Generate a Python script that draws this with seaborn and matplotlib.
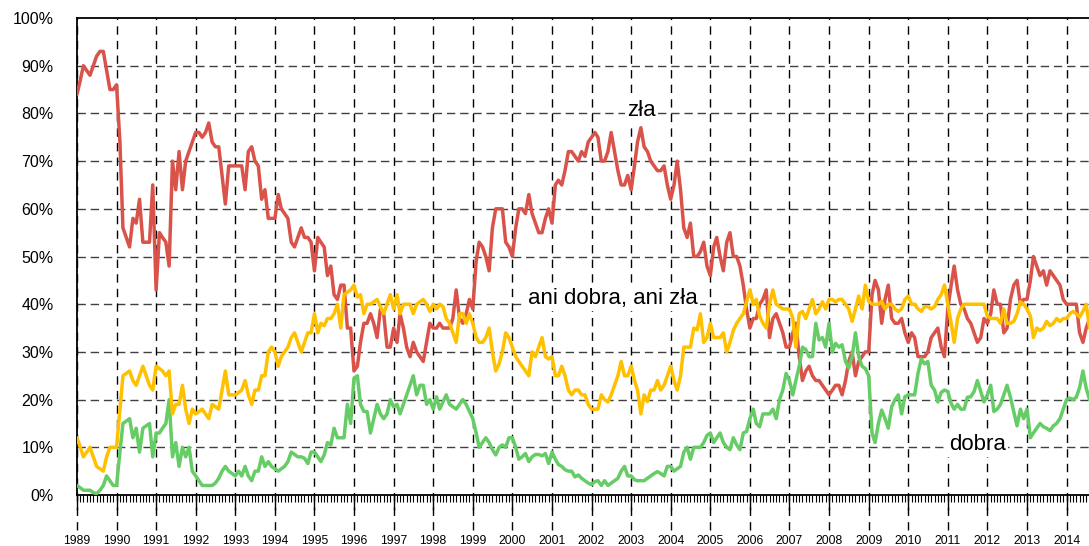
import numpy as np
import pandas as pd
import seaborn as sns
import matplotlib.pyplot as plt
import matplotlib.dates as mdates
from matplotlib.ticker import FixedLocator, FuncFormatter

# dane miesięczne, od stycznia 1989 do sierpnia 2014 (w %)
zla = [
    84, 87, 90, 89, 88, 90, 92, 93, 93, 89, 85, 85,
    86, 74, 56, 54, 52, 58, 57, 62, 53, 53, 53, 65,
    43, 55, 54, 53, 48, 70, 64, 72, 64, 70, 72, 74,
    76, 76, 75, 76, 78, 74, 73, 73, 67, 61, 69, 69,
    69, 69, 69, 64, 72, 73, 70, 69, 62, 64, 58, 58,
    58, 63, 60, 59, 58, 53, 52, 54, 56, 54, 54, 53,
    47, 54, 53, 52, 46, 48, 42, 41, 44, 44, 35, 35,
    26, 27, 32, 36, 36, 38, 36, 33, 39, 38, 31, 31,
    35, 32, 38, 35, 31, 29, 32, 30, 29, 28, 32, 36,
    35, 35, 36, 35, 35, 35, 37, 43, 37, 36, 38, 41,
    39, 49, 53, 52, 50, 47, 56, 60, 60, 60, 53, 52,
    50, 56, 60, 60, 59, 63, 59, 57, 55, 55, 58, 60,
    57, 65, 66, 65, 68, 72, 72, 71, 70, 72, 71, 74,
    75, 76, 75, 70, 70, 72, 76, 72, 68, 65, 65, 67,
    64, 69, 74, 77, 73, 72, 70, 69, 68, 68, 69, 65,
    62, 65, 70, 64, 56, 54, 57, 50, 50, 51, 53, 48,
    46, 52, 54, 50, 47, 53, 55, 50, 50, 48, 44, 39,
    35, 37, 37, 40, 41, 43, 33, 37, 38, 36, 34, 31,
    31, 34, 36, 29, 24, 26, 27, 25, 24, 24, 23, 22,
    21, 22, 23, 23, 21, 24, 28, 30, 25, 28, 29, 30,
    30, 42, 45, 43, 36, 41, 44, 37, 36, 36, 37, 34,
    32, 34, 33, 29, 29, 29, 30, 33, 34, 35, 31, 29,
    39, 44, 48, 43, 40, 39, 37, 36, 34, 32, 33, 37,
    36, 38, 43, 40, 40, 34, 35, 41, 44, 45, 40, 41,
    41, 45, 50, 48, 46, 47, 44, 47, 46, 45, 44, 41,
    40, 40, 40, 40, 34, 32, 35, 37,
]
ani = [
    12, 10, 8, 9, 10, 8, 6, 5.5, 5, 8, 10, 10,
    10, 18, 25, 25.5, 26, 24, 23, 25, 27, 25, 23, 22,
    27, 26.5, 26, 25, 26, 17, 19, 19, 23, 18, 15, 18,
    17, 17.5, 18, 17, 16, 19, 18.5, 18, 22, 26, 21, 21,
    21, 21.5, 22, 24, 21, 19, 22, 22, 25, 25, 30, 31,
    30, 27, 29, 30, 31, 33, 34, 32, 30, 32, 34, 34,
    38, 34, 36, 35.5, 37, 37, 38, 40, 35, 42, 42.5, 43,
    44, 41.5, 42, 38, 40, 40, 40.5, 41, 39.5, 38, 40, 42,
    39, 42, 38, 40, 40, 40, 38, 40, 40.5, 41, 40, 38.5,
    40, 39, 40, 39.5, 37, 36, 34, 32, 38, 38, 36, 38,
    36, 33, 32, 32, 33, 35, 30, 26, 27.5, 30, 34, 33,
    31, 29, 28, 27, 26, 25, 30, 29, 31, 33, 29, 28.5,
    29, 25, 25, 27, 25, 22, 21, 22, 22, 21, 21, 19,
    18, 18, 18, 21, 20, 19.5, 21, 23, 25, 28, 25, 25,
    27, 24, 22, 17, 21, 19.6, 22, 22, 24, 22, 23, 25,
    27, 24, 22, 25, 31, 31, 31, 35, 34.6, 38, 32, 33,
    36, 33, 33, 33, 34, 30, 32, 34.5, 36, 37, 38, 40.5,
    43, 40, 41, 37.5, 36, 35, 40, 43, 40, 39.5, 39, 39,
    39, 37, 31, 38, 38.5, 37, 39, 41, 38, 39, 40.5, 39,
    41, 41, 40.5, 41, 41, 40, 39, 36.4, 39, 41.7, 39, 44,
    40.6, 40, 40, 40, 40.6, 39, 40, 40, 39, 38.5, 39, 41,
    41.7, 40, 40, 39, 38.5, 39.5, 39.5, 39, 39.5, 41, 42, 44,
    40, 36, 32, 37, 39, 40, 40, 40, 40, 40, 40, 40,
    37.5, 37, 37, 37, 36, 39, 36, 36, 36.4, 38, 40.5, 40,
    39, 37.5, 33, 35, 34.5, 35, 36.4, 35.5, 36, 37, 36.4, 37,
    37, 38, 38.5, 38, 37.3, 38.5, 40, 35,
]
dobra = [
    2, 1.5, 1, 1, 1, 0.5, 0.3, 1, 2, 4, 3, 2,
    2, 9, 15, 15.5, 16, 12, 14, 9, 14, 14.5, 15, 8,
    13, 13, 14, 15, 20, 8, 11, 6, 10, 8, 10, 5,
    4, 3, 2, 2, 2, 2, 2.5, 3.5, 5, 6, 5, 4.5,
    4, 5, 4, 6, 4, 3, 5, 5, 8, 6, 7, 6,
    5.5, 5, 5.5, 6, 7, 9, 8.5, 8, 8, 7.7, 6.6, 9,
    9, 8, 7, 8.4, 11, 10.5, 14, 12, 12, 12, 19, 15,
    24.5, 25, 19, 17.5, 17.5, 13, 16, 19, 17, 16, 17, 20,
    18.5, 19, 17, 19, 21, 23, 25, 21, 23, 23, 19, 20,
    18, 20.6, 18, 19.5, 21, 19, 18.5, 18, 19, 20, 19, 17.5,
    16, 13, 10, 11, 12, 11, 9.5, 8.4, 10, 10.5, 10, 12,
    12, 10, 7.5, 8, 8.7, 7, 8, 8.5, 8.5, 8.2, 8.7, 6.6,
    9, 7.5, 6.4, 6, 5.3, 5, 5, 3.8, 4.2, 3.5, 3, 2.5,
    2.2, 2.8, 3, 2, 3, 2, 2.5, 3, 3.5, 5, 6, 4,
    4, 3.2, 3, 3, 3, 3.5, 4, 4.5, 4.9, 4.5, 4, 6,
    6, 5, 5.5, 6, 9, 10, 7.5, 10, 10, 10, 11, 12.5,
    13, 11, 12, 13, 11, 10, 9.5, 12, 10.5, 9.5, 13, 13.3,
    16, 18, 15, 14.3, 17, 17, 17, 18, 16, 20, 22, 25.5,
    24, 21, 24, 27, 31, 30.5, 29, 29, 36, 32.5, 33, 31,
    36, 30, 31.8, 31, 31.5, 28, 26.6, 29, 34, 29, 27, 26.5,
    25, 13, 11, 15, 17.8, 16, 14, 18.5, 20, 21, 17, 20.6,
    21, 21, 21, 25.5, 28.5, 27.5, 28, 23, 22, 19.5, 21.5, 22,
    21.7, 19.2, 18, 19, 18, 18, 20.5, 20.6, 21.7, 24, 21.7, 19.5,
    21, 23, 17.5, 18, 19, 21, 23, 20.5, 17.5, 14.5, 18, 16,
    18, 12, 13, 14, 15, 14.3, 14, 13.5, 14.5, 15, 16, 18,
    20, 20.3, 20, 20.5, 22.5, 26, 22.4, 20,
]
daty = pd.date_range('1989-01-01', periods=len(zla), freq='MS')
lata = pd.date_range('1989-01-01', '2014-01-01', freq='YS')
kolory = {'zła': '#d9534a', 'dobra': '#66cc66', 'ani dobra, ani zła': '#ffc000'}

df = pd.concat([
    pd.DataFrame({'data': daty, 'wartosc': zla, 'ocena': 'zła'}),
    pd.DataFrame({'data': daty, 'wartosc': dobra, 'ocena': 'dobra'}),
    pd.DataFrame({'data': daty, 'wartosc': ani, 'ocena': 'ani dobra, ani zła'}),
])

sns.set_style('white')
plt.rcParams['font.family'] = ['Liberation Sans', 'DejaVu Sans']
plt.rcParams['text.color'] = 'black'

fig = plt.figure(figsize=(10.89, 5.46), dpi=100)
ax = fig.add_axes([0.0707, 0.0934, 0.93, 0.8736])

sns.lineplot(data=df, x='data', y='wartosc', hue='ocena', palette=kolory,
             hue_order=['zła', 'dobra', 'ani dobra, ani zła'],
             linewidth=2.5, legend=False, ax=ax, zorder=3)

# siatka przerywana
for v in range(10, 100, 10):
    ax.axhline(v, color='#404040', lw=1, dashes=(6, 3.5), zorder=1)
ax.vlines(lata, -0.073, 1, transform=ax.get_xaxis_transform(), clip_on=False,
          colors='black', lw=1, linestyles=(0, (6, 4.5)), zorder=1)

ax.set_xlim(pd.Timestamp('1989-01-01'), pd.Timestamp('2014-08-03'))
ax.set_ylim(0, 100)
ax.yaxis.set_major_locator(FixedLocator(range(0, 101, 10)))
ax.yaxis.set_major_formatter(FuncFormatter(lambda v, p: '%d%%' % v))
ax.xaxis.set_major_locator(mdates.YearLocator())
ax.xaxis.set_major_formatter(mdates.DateFormatter('%Y'))
ax.xaxis.set_minor_locator(mdates.MonthLocator())
ax.tick_params(axis='y', length=0, pad=17, labelsize=11.5, colors='black')
ax.tick_params(axis='x', which='major', length=11, width=1, direction='out',
               pad=18, labelsize=8.7, colors='black', bottom=True)
ax.tick_params(axis='x', which='minor', length=5, width=0.8, direction='out',
               bottom=True, colors='black')
ax.set_xlabel('')
ax.set_ylabel('')

for s in ['left', 'top', 'bottom']:
    ax.spines[s].set_visible(True)
    ax.spines[s].set_color('black')
    ax.spines[s].set_linewidth(1.3)
ax.spines['right'].set_visible(False)

opis = dict(ha='center', va='center', fontsize=16, color='black', zorder=4,
            bbox=dict(facecolor='white', edgecolor='none', pad=1.5))
ax.text(pd.Timestamp('2003-04-08'), 80.7, 'zła', **opis)
ax.text(pd.Timestamp('2002-07-20'), 41.3, 'ani dobra, ani zła', **opis)
ax.text(pd.Timestamp('2011-10-01'), 10.5, 'dobra', **opis)

plt.savefig('out.png', dpi=100)
